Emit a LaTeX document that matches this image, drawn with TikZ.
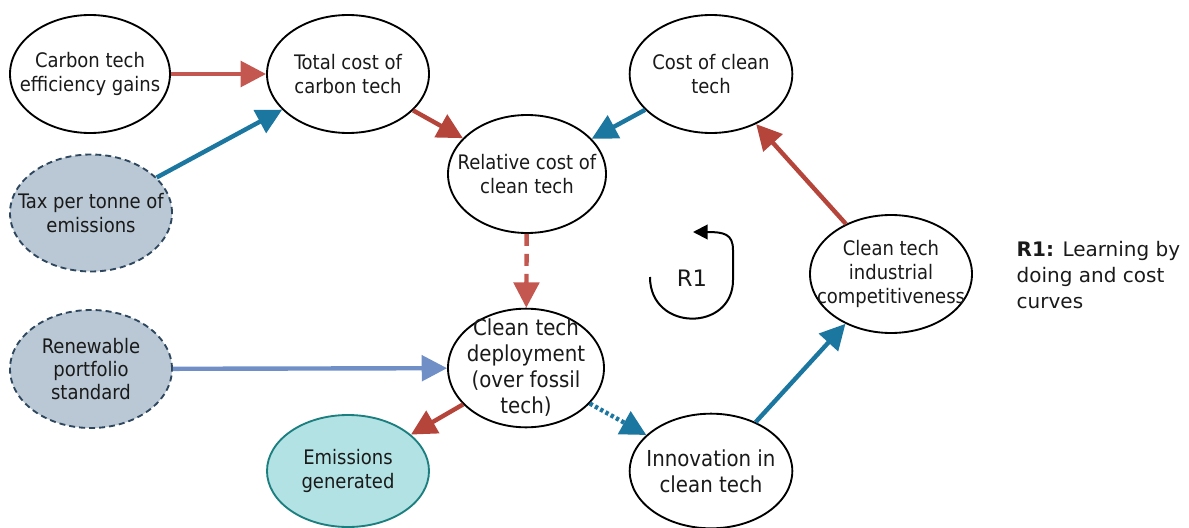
\documentclass[tikz,border=0pt]{standalone}
\usepackage{fontspec}
\setmainfont{DejaVu Sans Condensed}
\newfontfamily\legendfont{DejaVu Sans}
\usetikzlibrary{arrows.meta,shapes.geometric}
\definecolor{redA}{HTML}{C4574F}
\definecolor{redB}{HTML}{B5443A}
\definecolor{blueA}{HTML}{1B76A0}
\definecolor{steel}{HTML}{6F8FC6}
\definecolor{taxfill}{HTML}{B9C8D4}
\definecolor{taxline}{HTML}{2E475E}
\definecolor{emfill}{HTML}{B2E2E4}
\definecolor{emline}{HTML}{1C7F7F}
\definecolor{txtc}{HTML}{1A1A1A}
\tikzset{
  ell/.style={ellipse, draw=black, line width=1.4pt, fill=white, inner sep=0pt,
    minimum width=121.5pt, minimum height=88.5pt},
  policy/.style={ell, draw=taxline, fill=taxfill, dash pattern=on 4.5pt off 3pt},
  outcome/.style={ell, draw=emline, fill=emfill},
  txt/.style={align=center, text=txtc, font=\fontsize{15}{17.5}\selectfont},
  bigtxt/.style={align=center, text=txtc, font=\fontsize{16.5}{19.5}\selectfont},
  arr/.style={line width=3.3pt, -{Triangle[length=19pt,width=19pt]}, shorten <=0pt},
}
\begin{document}
\begin{tikzpicture}[x=0.75pt,y=-0.75pt]
\useasboundingbox (0,0) rectangle (1189,528);
% ellipses
\node[ell, minimum width=120pt] (ce) at (90,74) {};
\node[ell] (tc) at (348,74) {};
\node[ell, minimum width=122pt] (cc) at (711,74) {};
\node[ell, minimum width=118.5pt] (rc) at (527,174) {};
\node[policy, minimum height=87.75pt] (tax) at (91,213) {};
\node[ell] (comp) at (891,274) {};
\node[policy] (rps) at (91,369) {};
\node[ell, minimum width=117pt, minimum height=89pt] (dep) at (526,368) {};
\node[outcome, minimum height=84pt] (em) at (348,471) {};
\node[ell, minimum width=122pt, minimum height=86pt] (inn) at (711,471) {};
% texts
\node[txt] (cet) at (ce) {Carbon tech\\efficiency gains};
\node[txt] (tct) at (tc) {Total cost of\\carbon tech};
\node[txt] (cct) at (cc) {Cost of clean\\tech};
\node[txt] (rct) at (rc) {Relative cost of\\clean tech};
\node[txt] (taxt) at (tax) {Tax per tonne of\\emissions};
\node[txt, font=\fontsize{15}{18.3}\selectfont] (compt) at (comp) {Clean tech\\industrial\\competitiveness};
\node[txt] (rpst) at (rps) {Renewable\\portfolio\\standard};
\node[bigtxt] (dept) at (dep) {Clean tech\\deployment\\(over fossil\\tech)};
\node[txt] (emt) at (em) {Emissions\\generated};
\node[bigtxt] (innt) at (inn) {Innovation in\\clean tech};
% connectors
\draw[arr, redA] (ce) -- (tc);
\draw[arr, blueA] (tax) -- (tc);
\draw[arr, redB] (tc) -- (rc);
\draw[arr, blueA] (cc) -- (rc);
\draw[arr, redA, dash pattern=on 9pt off 6pt] (rc) -- (dep);
\draw[arr, steel] (rps) -- (dep);
\draw[arr, redB] (dep) -- (em);
\draw[arr, blueA, dash pattern=on 2.5pt off 2pt] (dep) -- (inn);
\draw[arr, blueA] (inn) -- (comp);
\draw[arr, redB] (comp) -- (cc);
% loop marker
\draw[line width=1.5pt, -{Triangle[length=11pt,width=11pt]}]
  (650,277) .. controls (650,332) and (733,332) .. (733,280)
  -- (733,250) .. controls (733,234) and (724,232) .. (693,232);
\node[font=\legendfont\fontsize{17}{20}\selectfont, text=txtc] (r1) at (692,278) {R1};
% legend
\node[anchor=north west, align=left, text=txtc, font=\legendfont\fontsize{15}{19.5}\selectfont]
  (leg) at (1012,237) {\textbf{R1:} Learning by\\doing and cost\\curves};
\end{tikzpicture}
\end{document}
